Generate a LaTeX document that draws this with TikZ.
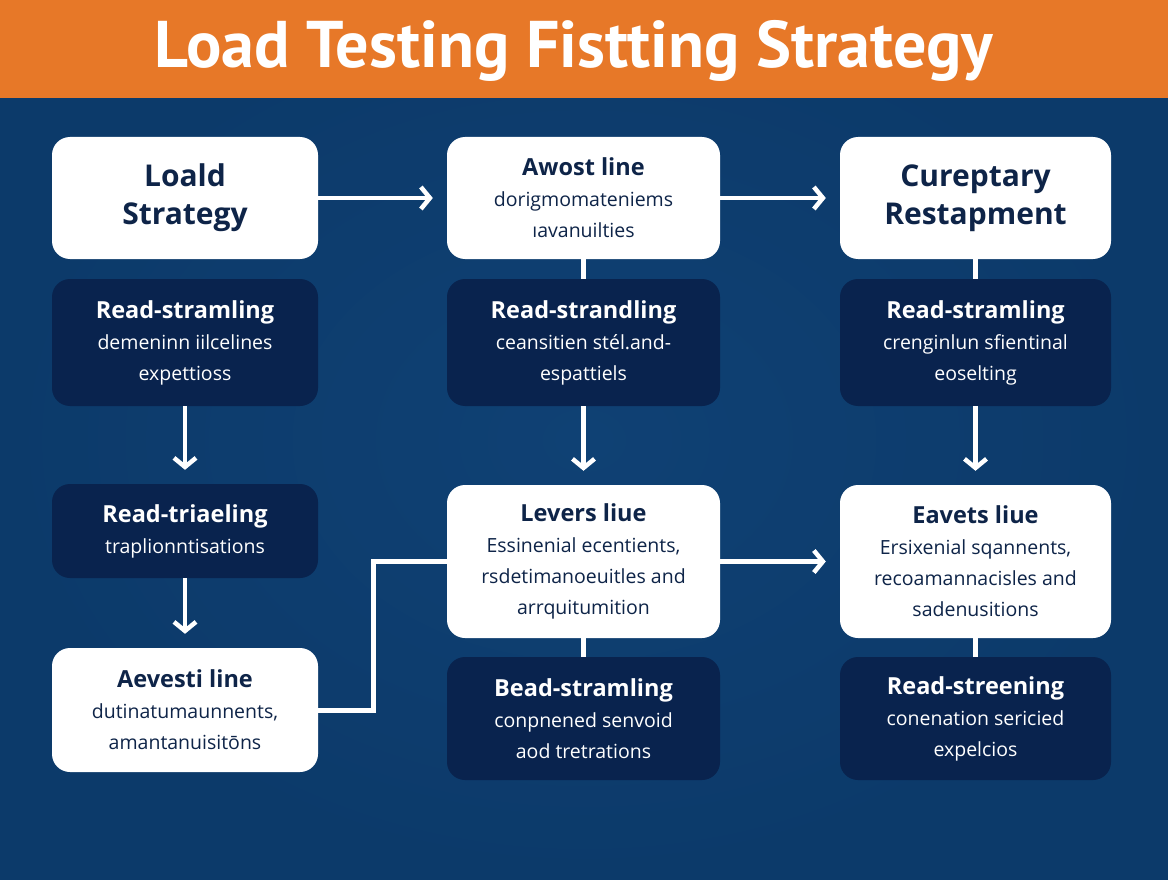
\documentclass[tikz,border=0pt]{standalone}
\usepackage{fontspec}
\setmainfont{Open Sans}
\newfontfamily\titlefont{PT Sans}
\usepackage{tikz}
\usetikzlibrary{arrows.meta,positioning}
\definecolor{cBar}{RGB}{231,120,40}
\definecolor{cBg}{RGB}{12,58,106}
\definecolor{cBgIn}{RGB}{15,65,116}
\definecolor{cDark}{RGB}{9,35,78}
\definecolor{cInk}{RGB}{14,36,72}

\tikzset{
  lite/.style={fill=white,text=cInk,rounded corners=18pt,align=center,inner sep=0pt},
  dark/.style={fill=cDark,text=white,rounded corners=18pt,align=center,inner sep=0pt},
  flow/.style={white,line width=4.5pt,-{Straight Barb[length=9pt,width=22pt]},shorten >=14pt},
  link/.style={white,line width=5pt}
}
\newcommand{\hd}{\fontsize{23.5}{31}\selectfont\bfseries}
\newcommand{\bd}{\fontsize{19.5}{29}\selectfont\mdseries}
\newcommand{\bigtx}{\fontsize{30}{38}\selectfont\bfseries}

\begin{document}
\begin{tikzpicture}[x=1pt,y=-1pt]
  \useasboundingbox (0,0) rectangle (1168,880);
  \shade[inner color=cBgIn,outer color=cBg] (0,0) rectangle (1168,880);
  \fill[cBar] (0,0) rectangle (1168,98);
  \node[white,font=\titlefont\bfseries\fontsize{66}{66}\selectfont] (title) at (574,51) {Load Testing Fistting Strategy};
  % first row
  \node[lite,font=\bigtx,minimum width=266,minimum height=122] (a1) at (185,198)
    {Loald\\Strategy};
  \node[lite,font=\hd,minimum width=273,minimum height=122] (a2) at (583.5,198)
    {Awost line\\\bd dorigmomateniems\\\bd ıavanuilties};
  \node[lite,font=\bigtx,minimum width=271,minimum height=122] (a3) at (975.5,198)
    {Cureptary\\Restapment};
  % second row
  \node[dark,font=\hd,minimum width=266,minimum height=127] (b1) at (185,342.5)
    {Read-stramling\\\bd demeninn iilcelines\\\bd expettioss};
  \node[dark,font=\hd,minimum width=273,minimum height=127] (b2) at (583.5,342.5)
    {Read-strandling\\\bd ceansitien stél.and-\\\bd espattiels};
  \node[dark,font=\hd,minimum width=271,minimum height=127] (b3) at (975.5,342.5)
    {Read-stramling\\\bd crenginlun sfientinal\\\bd eoselting};
  % lower rows
  \node[dark,font=\hd,minimum width=266,minimum height=94] (c1) at (185,531)
    {Read-triaeling\\\bd traplionntisations};
  \node[lite,font=\hd,minimum width=266,minimum height=124] (d1) at (185,710)
    {Aevesti line\\\bd dutinatumaunnents,\\\bd amantanuisitōns};
  \node[lite,font=\hd,minimum width=273,minimum height=153] (c2) at (583.5,561.5)
    {Levers liue\\\bd Essinenial ecentients,\\\bd rsdetimanoeuitles and\\\bd arrquitumition};
  \node[lite,font=\hd,minimum width=271,minimum height=153] (c3) at (975.5,561.5)
    {Eavets liue\\\bd Ersixenial sqannents,\\\bd recoamannacisles and\\\bd sadenusitions};
  \node[dark,font=\hd,minimum width=273,minimum height=123] (d2) at (583.5,718.5)
    {Bead-stramling\\\bd conpnened senvoid\\\bd aod tretrations};
  \node[dark,font=\hd,minimum width=271,minimum height=123] (d3) at (975.5,718.5)
    {Read-streening\\\bd conenation sericied\\\bd expelcios};
  % connectors
  \draw[flow] (a1.east) -- (a2.west);
  \draw[flow] (a2.east) -- (a3.west);
  \draw[link] (a2.south) -- (b2.north);
  \draw[link] (a3.south) -- (b3.north);
  \draw[flow] (b1.south) -- (c1.north);
  \draw[flow] (b2.south) -- (c2.north);
  \draw[flow] (b3.south) -- (c3.north);
  \draw[flow] (c1.south) -- (d1.north);
  \draw[link] (d1.east) -- ++(55,0) |- (c2.west);
  \draw[flow] (c2.east) -- (c3.west);
  \draw[link] (c2.south) -- (d2.north);
  \draw[link] (c3.south) -- (d3.north);
\end{tikzpicture}
\end{document}
